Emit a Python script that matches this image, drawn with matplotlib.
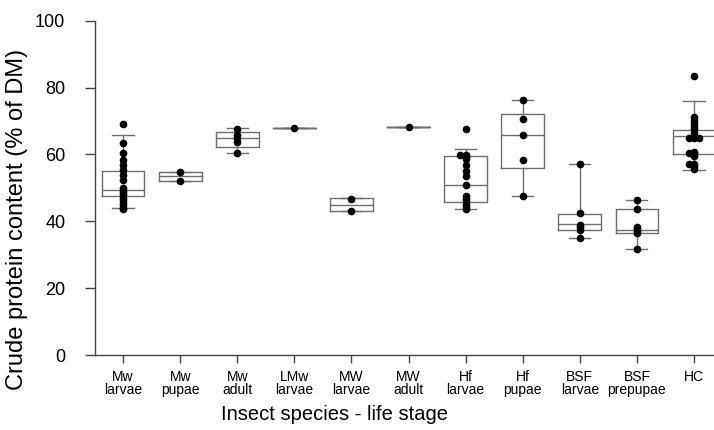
import numpy as np
import matplotlib
matplotlib.use('Agg')
import matplotlib.pyplot as plt

plt.rcParams['font.family'] = ['Liberation Sans', 'DejaVu Sans']

# groups (x tick labels)
groups = ['Mw\nlarvae', 'Mw\npupae', 'Mw\nadult', 'LMw\nlarvae', 'MW\nlarvae',
          'MW\nadult', 'Hf\nlarvae', 'Hf\npupae', 'BSF\nlarvae', 'BSF\nprepupae', 'HC']

# box statistics
q1 = [47.6, 52.1, 62.1, 68.0, 43.1, 68.1, 45.7, 55.9, 37.5, 36.4, 60.1]
med = [49.4, 53.4, 64.8, 68.0, 45.0, 68.1, 50.8, 65.7, 39.1, 37.3, 65.4]
q3 = [55.1, 54.8, 66.7, 68.0, 46.9, 68.1, 59.4, 72.1, 42.2, 43.7, 67.4]
whislo = [44.1, 52.1, 60.4, 68.0, 43.1, 68.1, 43.7, 47.6, 34.9, 31.7, 55.4]
whishi = [65.9, 54.8, 67.8, 68.0, 46.9, 68.1, 61.6, 76.3, 57.1, 46.4, 76.1]

# individual observations
mw_larvae = [69.1, 63.4, 60.4, 58.4, 56.7, 55.2, 53.9, 52.4, 50.0, 49.2, 48.5,
             47.8, 47.0, 46.3, 45.5, 44.8, 44.1, 43.8]
mw_pupae = [52.1, 54.7]
mw_adult = [60.4, 63.6, 64.8, 65.9, 67.7]
lmw_larvae = [68.0]
MW_larvae = [43.1, 46.6]
MW_adult = [68.1]
hf_larvae = [67.7, 59.9, 59.9, 59.3, 58.6, 56.9, 55.1, 53.4, 50.8, 47.6, 46.7,
             45.7, 44.9, 44.2, 43.7]
hf_pupae = [76.3, 70.5, 65.7, 58.4, 47.6]
bsf_larvae = [57.1, 42.4, 38.9, 38.2, 37.4, 34.9]
bsf_prepupae = [46.4, 43.6, 38.2, 37.6, 37.0, 36.5, 31.8]
hc = [83.6, 71.1, 70.2, 69.3, 68.4, 67.5, 66.5, 65.3, 64.8, 64.8, 64.8, 60.6,
      60.3, 60.3, 59.5, 57.2, 57.2, 56.5, 55.6]

points = [mw_larvae, mw_pupae, mw_adult, lmw_larvae, MW_larvae, MW_adult,
          hf_larvae, hf_pupae, bsf_larvae, bsf_prepupae, hc]

fig = plt.figure(figsize=(7.14, 4.30), dpi=100)
ax = fig.add_axes([94.5 / 714, 75 / 430, (714 - 94.5) / 714, 334.3 / 430])

stats = []
for i in range(len(groups)):
    stats.append(dict(q1=q1[i], med=med[i], q3=q3[i],
                      whislo=whislo[i], whishi=whishi[i], fliers=[]))

gray = '#6e6e6e'
ax.bxp(stats, positions=np.arange(1, len(groups) + 1), widths=0.75,
       showfliers=False,
       boxprops=dict(color=gray, lw=1.0),
       whiskerprops=dict(color=gray, lw=1.0),
       capprops=dict(color=gray, lw=1.0),
       medianprops=dict(color=gray, lw=1.0),
       capwidths=0.37)

# points, with small side offsets for tied values
for i, vals in enumerate(points):
    seen = {}
    xs = []
    for v in vals:
        k = seen.get(v, 0)
        seen[v] = k + 1
        off = 0 if k == 0 else (-1) ** k * 0.09 * ((k + 1) // 2)
        xs.append(i + 1 + off)
    ax.plot(xs, vals, 'o', color='black', ms=4.5, zorder=3)

ax.set_xlim(0.5, 11.35)
ax.set_ylim(0, 100)
ax.set_yticks([0, 20, 40, 60, 80, 100])
ax.set_xticks(np.arange(1, len(groups) + 1))
ax.set_xticklabels(groups, fontsize=10, linespacing=0.9)
ax.tick_params(axis='y', labelsize=13, length=7, width=1, pad=14, color='#444444')
ax.tick_params(axis='x', length=6, width=1, pad=5, color='#444444')

for s in ['top', 'right']:
    ax.spines[s].set_visible(False)
for s in ['left', 'bottom']:
    ax.spines[s].set_color('#444444')
    ax.spines[s].set_linewidth(1.0)

fig.text(17 / 714, 0.49, 'Crude protein content (% of DM)', rotation=90,
         ha='center', va='center', fontsize=17)
fig.text(0.4685, 0.024, 'Insect species - life stage', ha='center',
         va='baseline', fontsize=14.5)

fig.savefig('out.png', dpi=100)
